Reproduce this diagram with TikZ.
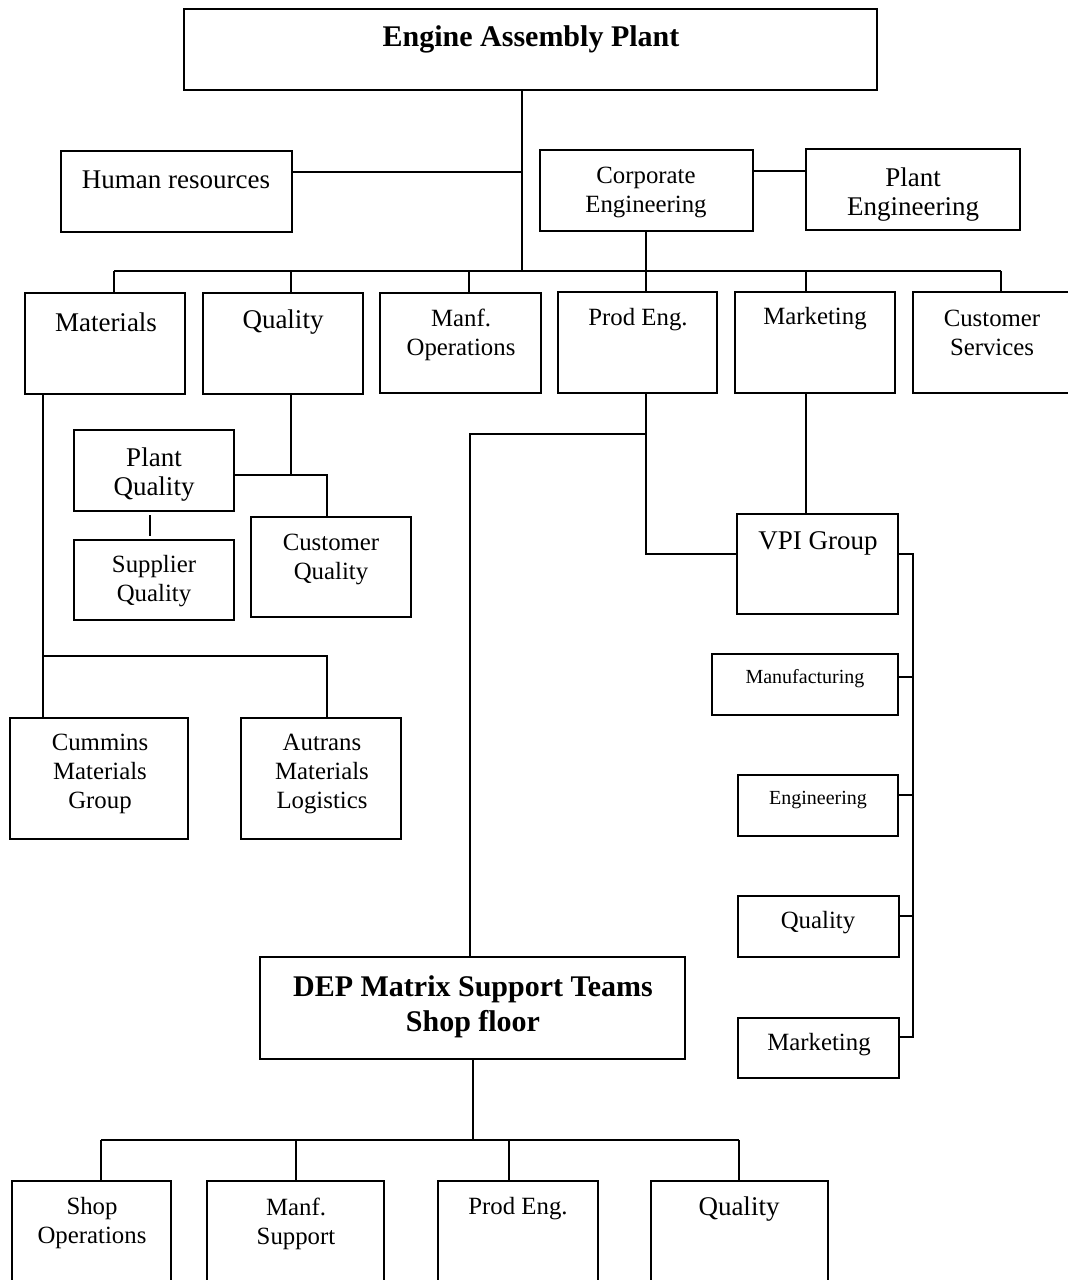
\documentclass[tikz,border=0pt]{standalone}
\usepackage{fontspec}
\setmainfont{Liberation Serif}
\begin{document}
\begin{tikzpicture}[x=0.5pt,y=-0.5pt,
  box/.style={draw, line width=1.1pt, inner sep=0pt, outer sep=0pt},
  conn/.style={line width=1pt},
  big/.style={font=\fontsize{13.5}{14.5}\selectfont, align=center, inner sep=0pt, yshift=-1pt},
  mid/.style={font=\fontsize{12.4}{14.5}\selectfont, align=center, inner sep=0pt, yshift=-1pt},
  small/.style={font=\fontsize{10}{12}\selectfont, align=center, inner sep=0pt, yshift=-1pt},
  head/.style={font=\bfseries\fontsize{15}{17.5}\selectfont, align=center, inner sep=0pt, yshift=-1pt}]
\newcommand\orgbox[5]{\node[box, minimum width={(#4-#2)*0.5pt}, minimum height={(#5-#3)*0.5pt}] (#1) at ({(#2+#4)/2},{(#3+#5)/2}) {};}

\useasboundingbox (0,0) rectangle (1068,1280);
\fill[white] (0,0) rectangle (1068,1280);
\clip (0,0) rectangle (1068,1280);

% ---- top level
\orgbox{eap}{184}{9}{877}{90}
\node[head] (eapt) at (531,37) {Engine Assembly Plant};

\orgbox{hr}{61}{151}{292}{232}
\node[big] (hrt) at (176,178) {Human resources};
\orgbox{corp}{540}{150}{753}{231}
\node[mid] (corpt) at (646,190.5) {Corporate\\Engineering};
\orgbox{peng}{806}{149}{1020}{230}
\node[big] (pengt) at (913,192.5) {Plant\\Engineering};

% ---- departments
\orgbox{mat}{25}{293}{185}{394}
\node[big] (matt) at (106,320) {Materials};
\orgbox{qual}{203}{293}{363}{394}
\node[big] (qualt) at (283,320) {Quality};
\orgbox{manf}{380}{293}{541}{393}
\node[mid] (manft) at (461,333) {Manf.\\Operations};
\orgbox{prod}{558}{292}{717}{393}
\node[mid] (prodt) at (638,318) {Prod Eng.};
\orgbox{mkt}{735}{292}{895}{393}
\node[mid] (mktt) at (815,317) {Marketing};
\orgbox{cs}{913}{292}{1072}{393}
\node[mid] (cst) at (992,331) {Customer\\Services};

% ---- quality sub-units
\orgbox{pq}{74}{430}{234}{511}
\node[big] (pqt) at (154,472.5) {Plant\\Quality};
\orgbox{sq}{74}{540}{234}{620}
\node[mid] (sqt) at (154,579) {Supplier\\Quality};
\orgbox{cq}{251}{517}{411}{617}
\node[mid] (cqt) at (331,557) {Customer\\Quality};

% ---- materials sub-units
\orgbox{cum}{10}{718}{188}{839}
\node[mid] (cumt) at (100,772) {Cummins\\Materials\\Group};
\orgbox{aut}{241}{718}{401}{839}
\node[mid] (autt) at (322,772) {Autrans\\Materials\\Logistics};

% ---- VPI group
\orgbox{vpi}{737}{514}{898}{614}
\node[big] (vpit) at (818,541) {VPI Group};
\orgbox{vmf}{712}{654}{898}{715}
\node[small] (vmft) at (805,677) {Manufacturing};
\orgbox{veng}{738}{775}{898}{836}
\node[small] (vengt) at (818,798) {Engineering};
\orgbox{vq}{738}{896}{899}{957}
\node[mid] (vqt) at (818,921) {Quality};
\orgbox{vmk}{738}{1018}{899}{1078}
\node[mid] (vmkt) at (819,1043) {Marketing};

% ---- shop floor
\orgbox{dep}{260}{957}{685}{1059}
\node[head] (dept) at (473,1004.5) {DEP Matrix Support Teams\\Shop floor};
\orgbox{b1}{12}{1181}{171}{1300}
\node[mid] (b1t) at (92,1221.5) {Shop\\Operations};
\orgbox{b2}{207}{1181}{384}{1300}
\node[mid] (b2t) at (296,1221.5) {Manf.\\Support};
\orgbox{b3}{438}{1181}{598}{1300}
\node[mid] (b3t) at (518,1207) {Prod Eng.};
\orgbox{b4}{651}{1181}{828}{1300}
\node[big] (b4t) at (739,1207) {Quality};

% ---- routing points
\coordinate (trunk) at (522,271);
\coordinate (hrl) at (0,172);
\coordinate (cpl) at (0,171);
\coordinate (busL) at (114,271);
\coordinate (busR) at (1001,271);
\coordinate (dq) at (291,0);
\coordinate (dm) at (469,0);
\coordinate (dp) at (646,0);
\coordinate (dk) at (806,0);
\coordinate (q1) at (291,475);
\coordinate (q2) at (327,475);
\coordinate (tick) at (150,0);
\coordinate (m1) at (43,656);
\coordinate (m2) at (327,656);
\coordinate (p1) at (646,434);
\coordinate (p2) at (470,434);
\coordinate (p3) at (646,554);
\coordinate (rail) at (913,0);
\coordinate (rl1) at (0,677);
\coordinate (rl2) at (0,795);
\coordinate (rl3) at (0,916);
\coordinate (rl4) at (0,1037);
\coordinate (sb) at (473,1140);
\coordinate (sbL) at (101,1140);
\coordinate (sbR) at (739,1140);
\coordinate (s2) at (296,0);
\coordinate (s3) at (509,0);

% ---- connectors: top level
\draw[conn] (eap.south -| trunk) -- (trunk);
\draw[conn] (hr.east |- hrl) -- (trunk |- hrl);
\draw[conn] (corp.east |- cpl) -- (peng.west |- cpl);
\draw[conn] (busL) -- (busR);
\draw[conn] (corp.south -| dp) -- (prod.north -| dp);
\draw[conn] (busL) -- (mat.north -| busL);
\draw[conn] (busL -| dq) -- (qual.north -| dq);
\draw[conn] (busL -| dm) -- (manf.north -| dm);
\draw[conn] (busL -| dk) -- (mkt.north -| dk);
\draw[conn] (busR) -- (cs.north -| busR);

% ---- quality branch
\draw[conn] (qual.south -| q1) -- (q1);
\draw[conn] (pq.east |- q1) -- (q2) -- (cq.north -| q2);
\draw[conn, shorten <=2pt, shorten >=2pt] (pq.south -| tick) -- (sq.north -| tick);

% ---- materials branch
\draw[conn] (mat.south -| m1) -- (cum.north -| m1);
\draw[conn] (m1) -- (m2) -- (aut.north -| m2);

% ---- production engineering branch
\draw[conn] (prod.south -| p1) -- (p3) -- (vpi.west |- p3);
\draw[conn] (p1) -- (p2) -- (dep.north -| p2);
\draw[conn] (mkt.south -| dk) -- (vpi.north -| dk);

% ---- VPI rail
\draw[conn] (vpi.east |- p3) -- (rail |- p3) -- (rail |- rl4) -- (vmk.east |- rl4);
\draw[conn] (vmf.east |- rl1) -- (rail |- rl1);
\draw[conn] (veng.east |- rl2) -- (rail |- rl2);
\draw[conn] (vq.east |- rl3) -- (rail |- rl3);

% ---- shop floor branch
\draw[conn] (dep.south -| sb) -- (sb);
\draw[conn] (sbL) -- (sbR);
\draw[conn] (sbL) -- (b1.north -| sbL);
\draw[conn] (sb -| s2) -- (b2.north -| s2);
\draw[conn] (sb -| s3) -- (b3.north -| s3);
\draw[conn] (sbR) -- (b4.north -| sbR);
\end{tikzpicture}
\end{document}
